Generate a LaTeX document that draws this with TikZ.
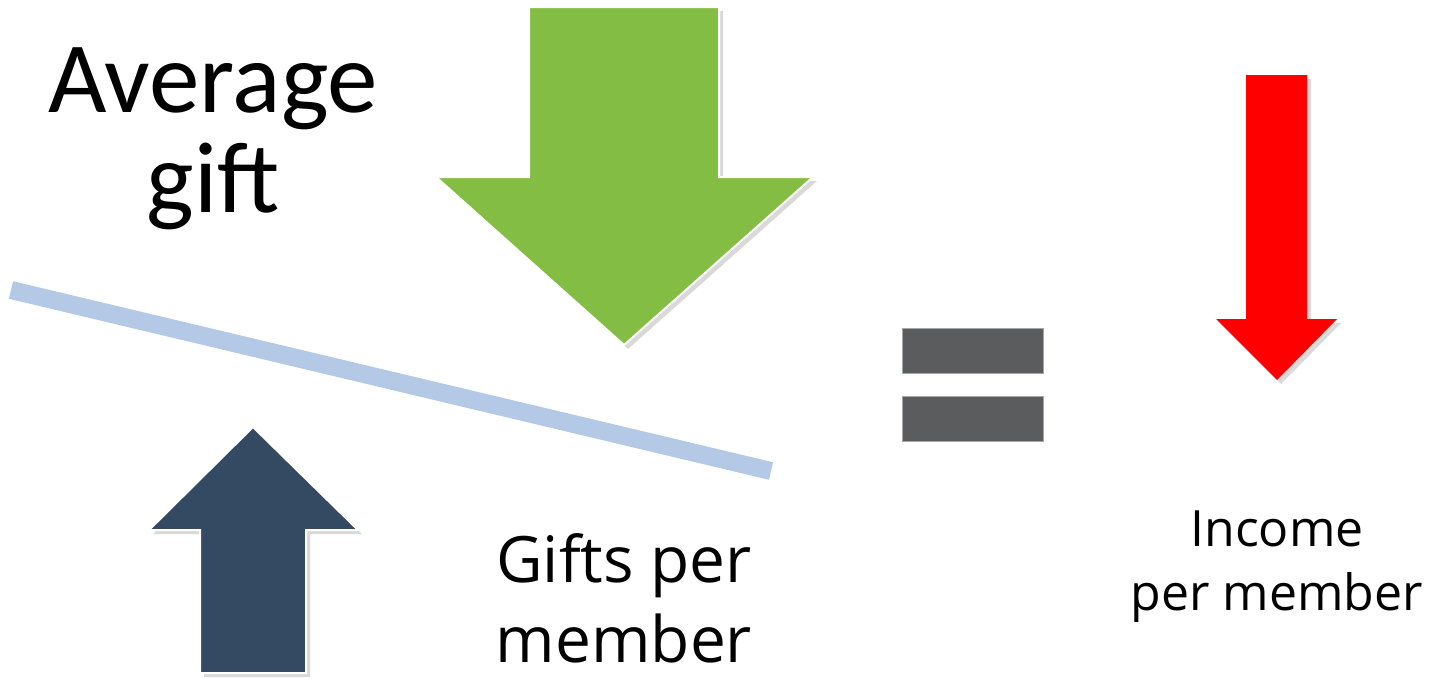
\documentclass[tikz,border=0pt]{standalone}
\usepackage{fontspec}
\setmainfont{Carlito}
\newfontfamily\labelfont{Open Sans}
\usetikzlibrary{shadows}

\definecolor{giftgreen}{HTML}{84BD44}
\definecolor{memberblue}{HTML}{344A63}
\definecolor{seesawblue}{HTML}{B4C9E6}
\definecolor{eqgray}{HTML}{5B5C5E}

\begin{document}
\begin{tikzpicture}[x=1pt, y=-1pt,
    bigarrow/.style={draw=white, line width=2pt, line join=miter,
      drop shadow={shadow xshift=4pt, shadow yshift=-4pt, opacity=0.3}},
    eqbar/.style={fill=eqgray, draw=gray!70, line width=1pt},
    bigtext/.style={align=center, anchor=base, inner sep=0pt}]
  \useasboundingbox (0,0) rectangle (1435,678);
  % seesaw
  \coordinate (s1) at (11,290);
  \coordinate (s2) at (771,471);
  \draw[seesawblue, line width=18pt] (s1) -- (s2);
  % arrows
  \fill[giftgreen, bigarrow] (529,7) -- (719,7) -- (719,177) -- (813,177)
    -- (624,345) -- (436,177) -- (529,177) -- cycle;
  \fill[memberblue, bigarrow] (253,427) -- (358,530) -- (306,530) -- (306,673)
    -- (200,673) -- (200,530) -- (149,530) -- cycle;
  \fill[red, drop shadow={shadow xshift=4pt, shadow yshift=-4pt, opacity=0.3}]
    (1246,75) -- (1307,75) -- (1307,319) -- (1337,319) -- (1277,380)
    -- (1216,319) -- (1246,319) -- cycle;
  % equals sign
  \draw[eqbar] (902,328) rectangle (1043,373);
  \draw[eqbar] (902,396) rectangle (1043,441);
  % labels (base = last line)
  \node[bigtext, font=\fontsize{101}{100}\selectfont] (avg) at (213,212)
    {Average\\gift};
  \node[bigtext, font=\labelfont\fontsize{64}{80}\selectfont] (gifts) at (624,662)
    {Gifts per\\member};
  \node[bigtext, font=\labelfont\fontsize{50}{64}\selectfont] (income) at (1277,610)
    {Income\\per member};
\end{tikzpicture}
\end{document}
